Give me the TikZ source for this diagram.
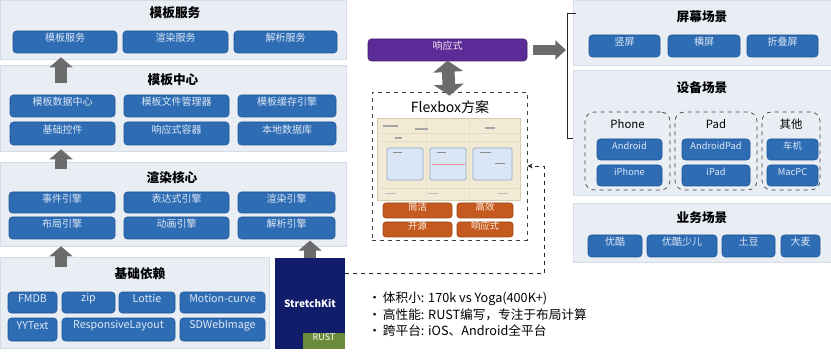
\documentclass[tikz,border=0pt]{standalone}
\usepackage{fontspec}
\setmainfont{Noto Sans CJK SC}
\usetikzlibrary{fit,arrows.meta,shadows,calc}
\definecolor{panelbg}{HTML}{E9EEF5}
\definecolor{panelln}{HTML}{D5DCE6}
\definecolor{btnblue}{HTML}{2E6CB4}
\definecolor{btnline}{HTML}{1F5597}
\definecolor{btntext}{HTML}{DDE8F6}
\definecolor{arrgray}{HTML}{6B6B6B}
\definecolor{purp}{HTML}{5B2B97}
\definecolor{orng}{HTML}{C45A1F}
\definecolor{navy}{HTML}{111C6A}
\definecolor{rustg}{HTML}{6A8B3A}
\definecolor{beige}{HTML}{F2EAD4}
\definecolor{beigeln}{HTML}{D8CBA9}
\definecolor{lblue}{HTML}{DAE6F6}
\definecolor{lblueln}{HTML}{93A9CC}
\begin{document}
\begin{tikzpicture}[x=0.75pt,y=-0.75pt,
  panel/.style={fill=panelbg,draw=panelln,line width=0.4pt,inner sep=0pt,
    drop shadow={opacity=0.12,shadow xshift=0.6pt,shadow yshift=-0.8pt}},
  btn/.style={fill=btnblue,draw=btnline,line width=0.4pt,rounded corners=2.5pt,inner sep=0pt,
    text=btntext,font=\fontsize{7.5}{9}\selectfont},
  lbtn/.style={btn,font=\fontsize{8}{9}\selectfont},
  sbtn/.style={btn,font=\fontsize{7}{8}\selectfont},
  obtn/.style={fill=orng,draw=orng!80!black,line width=0.4pt,rounded corners=2pt,inner sep=0pt,
    text=white!88!orange,font=\fontsize{7}{8}\selectfont},
  ttl/.style={font=\fontsize{9.5}{11}\selectfont\bfseries,text=black,inner sep=0pt},
  grp/.style={draw=black!75,dashed,line width=0.5pt,rounded corners=7pt,inner sep=0pt},
  glbl/.style={font=\fontsize{8.5}{10}\selectfont,inner sep=0pt},
  blk/.style={draw=arrgray,line width=9pt,-{Triangle[width=17pt,length=7.5pt]}},
  dblk/.style={draw=arrgray,line width=9.5pt,{Triangle[width=22pt,length=8.5pt]}-{Triangle[width=22pt,length=8.5pt]}},
  rblk/.style={draw=arrgray,line width=7pt,-{Triangle[width=14pt,length=8pt]}},
  dconn/.style={draw=black!85,dashed,line width=0.7pt,-{Stealth[length=4pt,width=3.5pt]}},
  bul/.style={anchor=west,inner sep=0pt,font=\fontsize{9.5}{11}\selectfont}
]
\useasboundingbox[fill=white] (0,0) rectangle (831,363);

% ---------- left column panels ----------
\node[panel,fit={(0,0)(346,59)}] (p1) {};
\node[panel,fit={(0,65)(346,151)}] (p2) {};
\node[panel,fit={(0,162)(346,246)}] (p3) {};
\node[panel,fit={(0,257)(269,348)}] (p4) {};

\node[ttl] (t1) at (175,13) {模板服务};
\node[btn,fit={(13,31)(117,53)}] (s1) {模板服务};
\node[btn,fit={(123,31)(228,53)}] (s2) {渲染服务};
\node[btn,fit={(234,31)(337,53)}] (s3) {解析服务};

\node[ttl] (t2) at (173,80) {模板中心};
\node[btn,fit={(10,95)(115,117)}] (c1) {模板数据中心};
\node[btn,fit={(124,95)(229,117)}] (c2) {模板文件管理器};
\node[btn,fit={(238,95)(336,117)}] (c3) {模板缓存引擎};
\node[btn,fit={(10,122)(115,145)}] (c4) {基础控件};
\node[btn,fit={(124,122)(229,145)}] (c5) {响应式容器};
\node[btn,fit={(238,122)(336,145)}] (c6) {本地数据库};

\node[ttl] (t3) at (172,178) {渲染核心};
\node[btn,fit={(9,192)(115,213)}] (r1) {事件引擎};
\node[btn,fit={(124,192)(229,213)}] (r2) {表达式引擎};
\node[btn,fit={(238,192)(335,213)}] (r3) {渲染引擎};
\node[btn,fit={(9,217)(115,239)}] (r4) {布局引擎};
\node[btn,fit={(124,217)(229,239)}] (r5) {动画引擎};
\node[btn,fit={(238,217)(335,239)}] (r6) {解析引擎};

\node[ttl] (t4) at (140,274) {基础依赖};
\node[lbtn,fit={(8,292)(57,313)}] (d1) {FMDB};
\node[lbtn,fit={(62,292)(115,313)}] (d2) {zip};
\node[lbtn,fit={(119,292)(175,313)}] (d3) {Lottie};
\node[lbtn,fit={(180,292)(265,313)}] (d4) {Motion-curve};
\node[lbtn,fit={(8,318)(57,341)}] (d5) {YYText};
\node[lbtn,fit={(62,318)(175,341)}] (d6) {ResponsiveLayout};
\node[lbtn,fit={(180,318)(265,341)}] (d7) {SDWebImage};

% up arrows
\draw[blk] ([yshift=-14pt]p2.north -| 61,0) -- ([yshift=1.5pt]p1.south -| 61,0);
\draw[blk] ([yshift=-5.5pt]p3.north -| 61,0) -- ([yshift=1.5pt]p2.south -| 61,0);
\draw[blk] ([yshift=-8pt]p4.north -| 61,0) -- ([yshift=0pt]p3.south -| 61,0);

% StretchKit
\node[fill=navy,inner sep=0pt,fit={(275,258)(345,349)}] (sk) {};
\node[text=white,font=\fontsize{7.5}{9}\selectfont\bfseries,inner sep=0pt] (skt) at (310,303) {StretchKit};
\node[fill=rustg,inner sep=0pt,fit={(303,333)(345,349)},text=white,font=\fontsize{6.8}{8}\selectfont] (rust) {RUST};
\draw[blk] (sk.north) -- ([yshift=-1pt]r6.south -| sk.north);

% ---------- middle ----------
\node[fill=purp,draw=purp!70!black,line width=0.4pt,rounded corners=2.5pt,inner sep=0pt,
  text=white!90!purple,font=\fontsize{7.5}{9}\selectfont,fit={(368,39)(527,61)}] (rsp) {响应式};
\node[grp,rounded corners=0pt,fit={(372,92)(527,240)}] (fb) {};
\node[inner sep=0pt,font=\fontsize{10.5}{12}\selectfont] (fbt) at (450,107) {Flexbox方案};
\draw[dblk] ([yshift=0.5pt]rsp.south) -- ([yshift=-3pt]fb.north);

% screenshot inside Flexbox
\node[fill=beige,draw=beigeln,line width=0.5pt,inner sep=0pt,fit={(377,118)(520,200)}] (shot) {};
\draw[beigeln!70!white,line width=0.4pt] (379,133) -- (518,133) (379,141) -- (518,141) (379,188) -- (518,188);
\draw[beigeln!60!white,line width=0.4pt] (426,120) -- (426,198) (469,120) -- (469,198);
\draw[black!35,line width=0.8pt] (383,126) -- (398,126) (415,129) -- (428,129) (395,138) -- (402,138) (485,128) -- (495,128);
\node[fill=lblue,draw=lblueln,line width=0.5pt,rounded corners=1.5pt,inner sep=0pt,fit={(387,148)(423,180)}] (sh1) {};
\node[fill=lblue,draw=lblueln,line width=0.5pt,rounded corners=1.5pt,inner sep=0pt,fit={(430,148)(466,180)}] (sh2) {};
\node[fill=lblue,draw=lblueln,line width=0.5pt,rounded corners=1.5pt,inner sep=0pt,fit={(473,148)(512,180)}] (sh3) {};
\draw[black!45,line width=0.7pt] (393,152) -- (402,152) (437,152) -- (446,152) (480,152) -- (491,152) (495,163) -- (505,163);
\draw[red!45,line width=0.5pt] (432,164) -- (465,164);
\draw[black!25,line width=0.6pt] (385,193) -- (396,193) (428,193) -- (438,193) (498,193) -- (508,193);

\node[obtn,fit={(383,203)(452,218)}] (o1) {简洁};
\node[obtn,fit={(457,203)(513,218)}] (o2) {高效};
\node[obtn,fit={(383,222)(452,237)}] (o3) {开源};
\node[obtn,fit={(457,222)(513,237)}] (o4) {响应式};

% dashed connector StretchKit -> Flexbox
\draw[dconn] ([yshift=-12pt]sk.north east) -| ($(fb.east)+(17,0)$) -- (fb.east);

% bullets
\node[bul] (b1) at (368,299) {\makebox[11pt][l]{•}体积小: 170k vs Yoga(400K+)};
\node[bul] (b2) at (368,315) {\makebox[11pt][l]{•}高性能: RUST编写，专注于布局计算};
\node[bul] (b3) at (368,331) {\makebox[11pt][l]{•}跨平台: iOS、Android全平台};

% ---------- right column ----------
\node[panel,fit={(573,0)(831,65)}] (q1) {};
\node[panel,fit={(573,70)(831,195)}] (q2) {};
\node[panel,fit={(573,203)(831,262)}] (q3) {};

\node[ttl] (u1) at (702,17) {屏幕场景};
\node[btn,fit={(589,35)(660,57)}] (e1) {竖屏};
\node[btn,fit={(668,35)(740,57)}] (e2) {横屏};
\node[btn,fit={(747,35)(818,57)}] (e3) {折叠屏};

\node[ttl] (u2) at (702,88) {设备场景};
\node[grp,fit={(585,112)(670,190)}] (g1) {};
\node[grp,fit={(675,112)(757,190)}] (g2) {};
\node[grp,fit={(762,112)(820,190)}] (g3) {};
\node[glbl] (gl1) at (627.5,124) {Phone};
\node[glbl] (gl2) at (716,124) {Pad};
\node[glbl] (gl3) at (791,124) {其他};
\node[sbtn,fit={(597,139)(662,160)}] (h1) {Android};
\node[sbtn,fit={(597,165)(662,186)}] (h2) {iPhone};
\node[sbtn,fit={(682,139)(750,160)}] (h3) {AndroidPad};
\node[sbtn,fit={(682,165)(750,186)}] (h4) {iPad};
\node[sbtn,fit={(767,139)(818,160)}] (h5) {车机};
\node[sbtn,fit={(767,165)(818,186)}] (h6) {MacPC};

\node[ttl] (u3) at (702,218) {业务场景};
\node[btn,fit={(588,235)(642,257)}] (k1) {优酷};
\node[btn,fit={(647,235)(717,257)}] (k2) {优酷少儿};
\node[btn,fit={(722,235)(775,257)}] (k3) {土豆};
\node[btn,fit={(781,235)(820,257)}] (k4) {大麦};

% bracket and arrow
\coordinate (bt) at (576,13);
\coordinate (bb) at (573,138);
\draw[black!85,line width=0.6pt] (bt) -- (567,13) -- (567,138) -- (bb);
\coordinate (bm) at (566,50);
\draw[rblk] ([xshift=4.5pt]rsp.east) -- (bm);
\end{tikzpicture}
\end{document}
